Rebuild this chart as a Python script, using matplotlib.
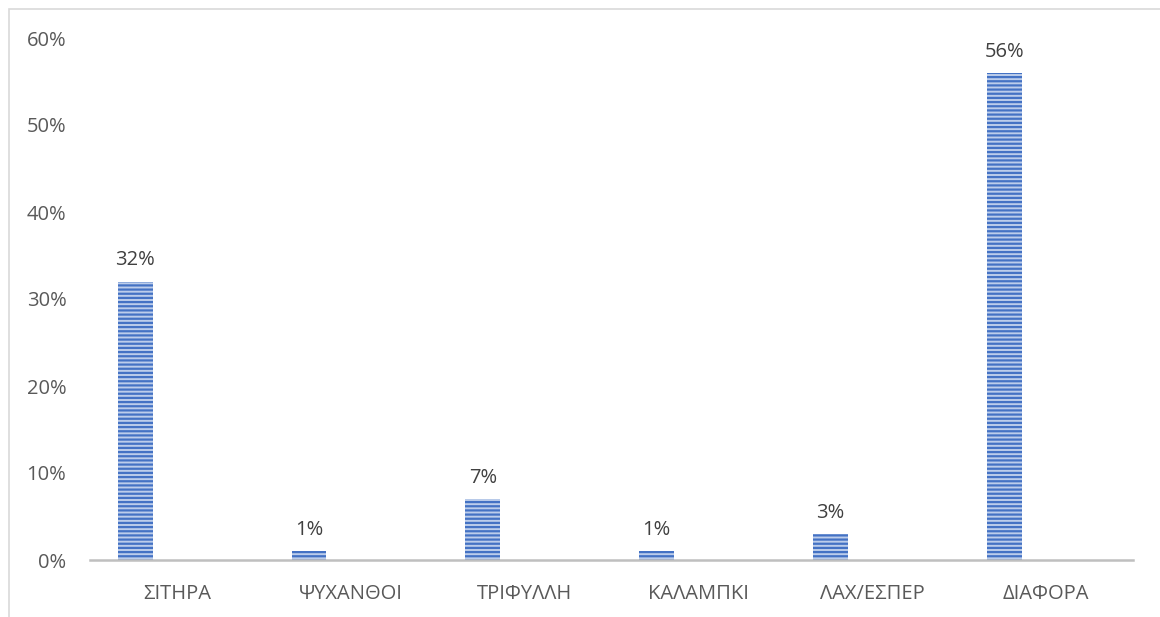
import matplotlib
matplotlib.use("Agg")
import matplotlib.pyplot as plt
from matplotlib.patches import Rectangle
from matplotlib.ticker import PercentFormatter

categories = ["ΣΙΤΗΡΑ", "ΨΥΧΑΝΘΟΙ", "ΤΡΙΦΥΛΛΗ", "ΚΑΛΑΜΠΚΙ", "ΛΑΧ/ΕΣΠΕΡ", "ΔΙΑΦΟΡΑ"]
values = [0.32, 0.01, 0.07, 0.01, 0.03, 0.56]
yticks = [0, 0.1, 0.2, 0.3, 0.4, 0.5, 0.6]

plt.rcParams['font.family'] = ['Open Sans', 'DejaVu Sans']
plt.rcParams['hatch.linewidth'] = 1.6

W, H = 1160, 617
fig = plt.figure(figsize=(W / 100, H / 100), dpi=100)

# outer chart border (light grey)
fig.patches.append(Rectangle((9 / W, -0.1), 1.2, (H - 9) / H + 0.1, transform=fig.transFigure,
                             fill=False, edgecolor='#D9D9D9', linewidth=1.2))

ax = fig.add_axes([90 / W, (H - 560) / H, (1133 - 90) / W, (560 - 38) / H])
x = list(range(len(categories)))
xb = [i - 0.24 for i in x]
bars = ax.bar(xb, values, width=0.2, color='#BCCDEB', edgecolor='#4472C4',
              linewidth=0, hatch='----')

for xi, v in zip(xb, values):
    ax.annotate(f"{round(v * 100)}%", (xi, v), xytext=(0, 8), textcoords='offset points',
                ha='center', va='bottom', fontsize=14.5, color='#404040')

ax.set_xlim(-0.5, len(categories) - 0.5)
ax.set_ylim(0, 0.6)
ax.set_yticks(yticks)
ax.yaxis.set_major_formatter(PercentFormatter(1.0, decimals=0))
ax.set_xticks(x)
ax.set_xticklabels(categories)
ax.tick_params(axis='both', length=0, labelsize=14.5, labelcolor='#595959')
ax.tick_params(axis='x', pad=17)
ax.tick_params(axis='y', pad=17)
for s in ['top', 'right', 'left']:
    ax.spines[s].set_visible(False)
ax.spines['bottom'].set_color('#BFBFBF')
ax.spines['bottom'].set_linewidth(1.8)

fig.savefig("out.png", dpi=100)
